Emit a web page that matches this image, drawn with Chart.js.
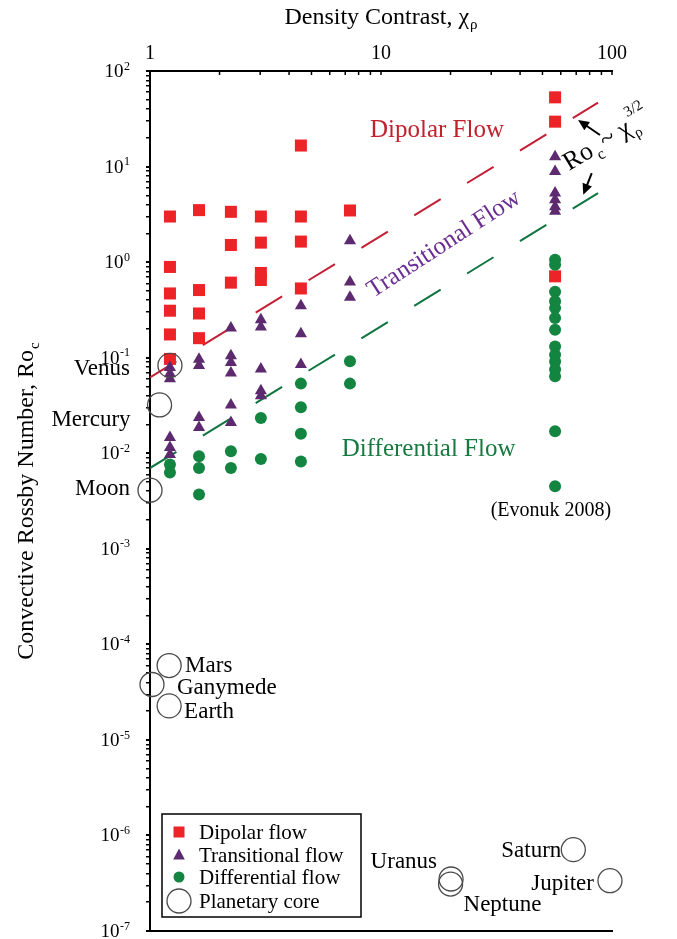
<!DOCTYPE html>
<html><head><meta charset="utf-8">
<script src="https://cdn.jsdelivr.net/npm/chart.js@4"></script>
<style>html,body{margin:0;padding:0;background:#fff;}canvas{display:block}</style>
</head><body>
<canvas id="c" width="677" height="939"></canvas>
<script>
// ---------------- DATA ----------------
const densityTickLabels = [1, 10, 100];
const rossbyPowers = [-7, -6, -5, -4, -3, -2, -1, 0, 1, 2];

const dipolarX = [1.22,1.22,1.22,1.22,1.22,1.22, 1.63,1.63,1.63,1.63, 2.24,2.24,2.24, 3.02,3.02,3.02,3.02, 4.5,4.5,4.5,4.5, 7.34, 56.7,56.7,56.7];
const dipolarY = [3.0,0.89,0.47,0.31,0.175,0.097, 3.5,0.51,0.29,0.16, 3.36,1.51,0.61, 3.0,1.6,0.77,0.65, 16.6,3.0,1.64,0.53, 3.47, 53,29.5,0.71];

const transitionalX = [1.22,1.22,1.22,1.22,1.22,1.22, 1.63,1.63,1.63,1.63, 2.24,2.24,2.24,2.24,2.24,2.24, 3.02,3.02,3.02,3.02,3.02, 4.5,4.5,4.5, 7.34,7.34,7.34, 56.7,56.7,56.7,56.7,56.7,56.7];
const transitionalY = [0.079,0.068,0.06,0.0146,0.0115,0.0097, 0.096,0.083,0.0236,0.0186, 0.205,0.105,0.089,0.069,0.032,0.021, 0.25,0.21,0.076,0.045,0.04, 0.35,0.178,0.085, 1.67,0.62,0.43, 12.7,8.9,5.3,4.5,3.8,3.4];

const differentialX = [1.22,1.22, 1.63,1.63,1.63, 2.24,2.24, 3.02,3.02, 4.5,4.5,4.5,4.5, 7.34,7.34, 56.7,56.7,56.7,56.7,56.7,56.7,56.7,56.7,56.7,56.7,56.7,56.7,56.7,56.7];
const differentialY = [0.0076,0.0063, 0.0093,0.0070,0.0037, 0.0105,0.0070, 0.0234,0.0087, 0.0535,0.0303,0.016,0.0082, 0.0915,0.0535, 1.06,0.94,0.49,0.39,0.33,0.26,0.196,0.131,0.107,0.091,0.075,0.064,0.017,0.0045];

const planetNames = ['Venus','Mercury','Moon','Mars','Ganymede','Earth','Uranus','Neptune','Saturn','Jupiter'];
const planetX = [1.22, 1.10, 1.0, 1.21, 1.02, 1.21, 20.1, 20.0, 68, 98];
const planetY = [0.083, 0.032, 0.0041, 6.0e-5, 3.8e-5, 2.27e-5, 3.5e-7, 3.1e-7, 7.1e-7, 3.36e-7];

const boundaryX = [1, 87];
const dipolarBoundaryY = [0.062, 46.6];
const differentialBoundaryY = [0.0070, 5.27];

// ---------------- STYLE / LAYOUT ----------------
const SERIF = "'Liberation Serif','Times New Roman',serif";
const F = px => px + 'px ' + SERIF;
const COL = { red:'#ec2428', purple:'#5d2a70', green:'#138540', ring:'#4a4a4a',
  redText:'#c1212f', purpleText:'#6a2d92', greenText:'#167a40', redLine:'#c41f35', greenLine:'#0f7440' };

const planetLabelStyle = {
  Venus:{dx:-40,dy:4,align:'right'}, Mercury:{dx:-29,dy:15,align:'right'}, Moon:{dx:-20,dy:-1,align:'right'},
  Mars:{dx:16,dy:0,align:'left'}, Ganymede:{dx:25,dy:3,align:'left'}, Earth:{dx:15,dy:6,align:'left'},
  Uranus:{dx:-14,dy:-17,align:'right'}, Neptune:{dx:13,dy:21,align:'left'},
  Saturn:{dx:-12,dy:1,align:'right'}, Jupiter:{dx:-16,dy:3,align:'right'}
};

const pts = (xs, ys) => xs.map((x, i) => ({x, y: ys[i]}));

function drawArrow(ctx, x1, y1, x2, y2) {
  const a = Math.atan2(y2 - y1, x2 - x1), L = 11, W = 5;
  ctx.beginPath(); ctx.moveTo(x1, y1); ctx.lineTo(x2 - Math.cos(a)*L*0.8, y2 - Math.sin(a)*L*0.8); ctx.stroke();
  ctx.beginPath(); ctx.moveTo(x2, y2);
  ctx.lineTo(x2 - Math.cos(a)*L - Math.sin(a)*W, y2 - Math.sin(a)*L + Math.cos(a)*W);
  ctx.lineTo(x2 - Math.cos(a)*L + Math.sin(a)*W, y2 - Math.sin(a)*L - Math.cos(a)*W);
  ctx.closePath(); ctx.fill();
}

const annotations = {
  id: 'annotations',
  afterDraw(chart) {
    const ctx = chart.ctx, xs = chart.scales.x, ys = chart.scales.y, ca = chart.chartArea;
    const X = v => xs.getPixelForValue(v), Y = v => ys.getPixelForValue(v);
    ctx.save();
    ctx.fillStyle = '#000'; ctx.strokeStyle = '#000';
    // bottom frame line
    ctx.lineWidth = 2;
    ctx.beginPath(); ctx.moveTo(ca.left - 3, ca.bottom); ctx.lineTo(ca.right + 1, ca.bottom); ctx.stroke();
    // top axis minor ticks (inside)
    ctx.lineWidth = 1.5;
    [1, 10].forEach(d => { for (let k = 2; k <= 10; k++) { const px = X(k*d);
      ctx.beginPath(); ctx.moveTo(px, ca.top); ctx.lineTo(px, ca.top + 4); ctx.stroke(); } });
    // y tick labels 10^n
    ctx.textBaseline = 'middle';
    rossbyPowers.forEach(p => {
      const py = Y(Math.pow(10, p)), sup = String(p), right = ca.left - 20;
      ctx.font = F(12); const sw = ctx.measureText(sup).width;
      ctx.textAlign = 'left'; ctx.fillText(sup, right - sw, py - 4.5);
      ctx.font = F(19); ctx.textAlign = 'right'; ctx.fillText('10', right - sw - 0.5, py + 1);
    });
    // x title
    ctx.textBaseline = 'alphabetic';
    {
      const main = 'Density Contrast, \u03C7';
      ctx.font = F(24); const w1 = ctx.measureText(main).width;
      ctx.font = F(15); const w2 = ctx.measureText('\u03C1').width;
      const x0 = X(10) - (w1 + w2 + 1) / 2;
      ctx.font = F(24); ctx.textAlign = 'left'; ctx.fillText(main, x0, 24);
      ctx.font = F(15); ctx.fillText('\u03C1', x0 + w1 + 1, 29);
    }
    // y title
    {
      const main = 'Convective Rossby Number, Ro';
      ctx.font = F(24); const w1 = ctx.measureText(main).width;
      ctx.font = F(15); const w2 = ctx.measureText('c').width;
      ctx.save(); ctx.translate(33, 501); ctx.rotate(-Math.PI / 2);
      const x0 = -(w1 + w2 + 1) / 2;
      ctx.font = F(24); ctx.textAlign = 'left'; ctx.fillText(main, x0, 0);
      ctx.font = F(15); ctx.fillText('c', x0 + w1 + 1, 6);
      ctx.restore();
    }
    // region labels
    ctx.font = F(25); ctx.textAlign = 'left';
    ctx.fillStyle = COL.redText; ctx.fillText('Dipolar Flow', X(8.96), Y(20.4));
    ctx.fillStyle = COL.greenText; ctx.fillText('Differential Flow', X(6.76), Y(0.00946));
    ctx.save(); ctx.translate(X(9.26), Y(0.421)); ctx.rotate(-33 * Math.PI / 180);
    ctx.fillStyle = COL.purpleText; ctx.fillText('Transitional Flow', 0, 0); ctx.restore();
    // scaling law label
    ctx.fillStyle = '#000';
    ctx.save(); ctx.translate(X(65.2), Y(9.0)); ctx.rotate(-31 * Math.PI / 180);
    let cx = 0;
    ctx.font = F(26); ctx.fillText('Ro', cx, 0); cx += ctx.measureText('Ro').width + 2;
    ctx.font = F(16); ctx.fillText('c', cx, 7); cx += ctx.measureText('c').width + 3;
    ctx.font = F(26); ctx.fillText('~ \u03C7', cx, 0); cx += ctx.measureText('~ \u03C7').width + 1;
    ctx.font = F(15); ctx.fillText('\u03C1', cx, 7); ctx.fillText('3/2', cx + 2, -16);
    ctx.restore();
    ctx.lineWidth = 2;
    drawArrow(ctx, X(88.7), Y(21.4), X(71.3), Y(30.7));
    drawArrow(ctx, X(81.7), Y(8.53), X(75.1), Y(5.06));
    // source
    ctx.font = F(20); ctx.textAlign = 'center'; ctx.fillText('(Evonuk 2008)', X(54.4), Y(0.00218));
    // planet labels
    ctx.font = F(23); ctx.textBaseline = 'middle';
    planetNames.forEach((n, i) => { const s = planetLabelStyle[n];
      ctx.textAlign = s.align; ctx.fillText(n, X(planetX[i]) + s.dx, Y(planetY[i]) + s.dy); });
    // legend
    const lx = ca.left + 12, ly = ca.bottom - 117, lw = 199, lh = 103;
    ctx.lineWidth = 1.5; ctx.strokeStyle = '#000'; ctx.strokeRect(lx, ly, lw, lh);
    const rows = [
      {t:'Dipolar flow', dy:18, draw:(x,y)=>{ctx.fillStyle=COL.red; ctx.fillRect(x-5.5,y-5.5,11,11);}},
      {t:'Transitional flow', dy:41, draw:(x,y)=>{ctx.fillStyle=COL.purple; ctx.beginPath(); ctx.moveTo(x,y-6.5); ctx.lineTo(x+5.8,y+4.5); ctx.lineTo(x-5.8,y+4.5); ctx.closePath(); ctx.fill();}},
      {t:'Differential flow', dy:63, draw:(x,y)=>{ctx.fillStyle=COL.green; ctx.beginPath(); ctx.arc(x,y,5.5,0,Math.PI*2); ctx.fill();}},
      {t:'Planetary core', dy:87, draw:(x,y)=>{ctx.strokeStyle=COL.ring; ctx.lineWidth=1.3; ctx.beginPath(); ctx.arc(x,y,12,0,Math.PI*2); ctx.stroke();}}
    ];
    rows.forEach(r => { r.draw(lx + 17, ly + r.dy);
      ctx.fillStyle = '#000'; ctx.font = F(21); ctx.textAlign = 'left'; ctx.textBaseline = 'middle';
      ctx.fillText(r.t, lx + 37, ly + r.dy + 1); });
    ctx.restore();
  }
};

new Chart(document.getElementById('c'), {
  type: 'scatter',
  data: { datasets: [
    { label:'Dipolar boundary', type:'line', data: pts(boundaryX, dipolarBoundaryY), borderColor: COL.redLine, borderWidth: 2, borderDash: [31, 31], pointRadius: 0, fill: false, order: 5 },
    { label:'Differential boundary', type:'line', data: pts(boundaryX, differentialBoundaryY), borderColor: COL.greenLine, borderWidth: 2, borderDash: [31, 31], pointRadius: 0, fill: false, order: 5 },
    { label:'Dipolar flow', data: pts(dipolarX, dipolarY), pointStyle:'rect', pointRadius: 8.5, backgroundColor: COL.red, borderWidth: 0, order: 4 },
    { label:'Transitional flow', data: pts(transitionalX, transitionalY), pointStyle:'triangle', pointRadius: 7, backgroundColor: COL.purple, borderWidth: 0, order: 3 },
    { label:'Differential flow', data: pts(differentialX, differentialY), pointStyle:'circle', pointRadius: 6, backgroundColor: COL.green, borderWidth: 0, order: 2 },
    { label:'Planetary core', data: pts(planetX, planetY), pointStyle:'circle', pointRadius: 12, backgroundColor:'rgba(0,0,0,0)', borderColor: COL.ring, borderWidth: 1.3, clip: false, order: 1 }
  ]},
  options: {
    responsive: false, animation: false, devicePixelRatio: 1,
    layout: { autoPadding: false, padding: { left: 0, top: 0, right: 65, bottom: 8 } },
    plugins: { legend: { display: false }, tooltip: { enabled: false } },
    scales: {
      x: { type:'logarithmic', position:'top', min: 1, max: 100,
        afterFit: s => { s.height = 71; },
        afterBuildTicks: s => { s.ticks = densityTickLabels.map(v => ({value: v})); },
        ticks: { callback: v => String(v), font: { family: SERIF, size: 20 }, color:'#000', padding: 5, maxRotation: 0, autoSkip: false },
        grid: { display: true, drawOnChartArea: false, drawTicks: true, tickLength: 0, color:'#000' },
        border: { display: true, color:'#000', width: 2 } },
      y: { type:'logarithmic', min: 1e-7, max: 100,
        afterFit: s => { s.width = 150; },
        afterBuildTicks: s => { const t = []; for (let p = -7; p <= 1; p++) for (let k = 1; k <= 9; k++) t.push({value: k * Math.pow(10, p)}); t.push({value: 100}); s.ticks = t; },
        ticks: { display: false },
        grid: { display: true, drawOnChartArea: false, drawTicks: true, tickLength: 4, color:'#000',
          lineWidth: c => { const v = c.tick ? c.tick.value : 1; const l = Math.log10(v); return Math.abs(l - Math.round(l)) < 1e-6 ? 2 : 1.5; } },
        border: { display: true, color:'#000', width: 2 } }
    }
  },
  plugins: [annotations]
});
</script>
</body></html>
